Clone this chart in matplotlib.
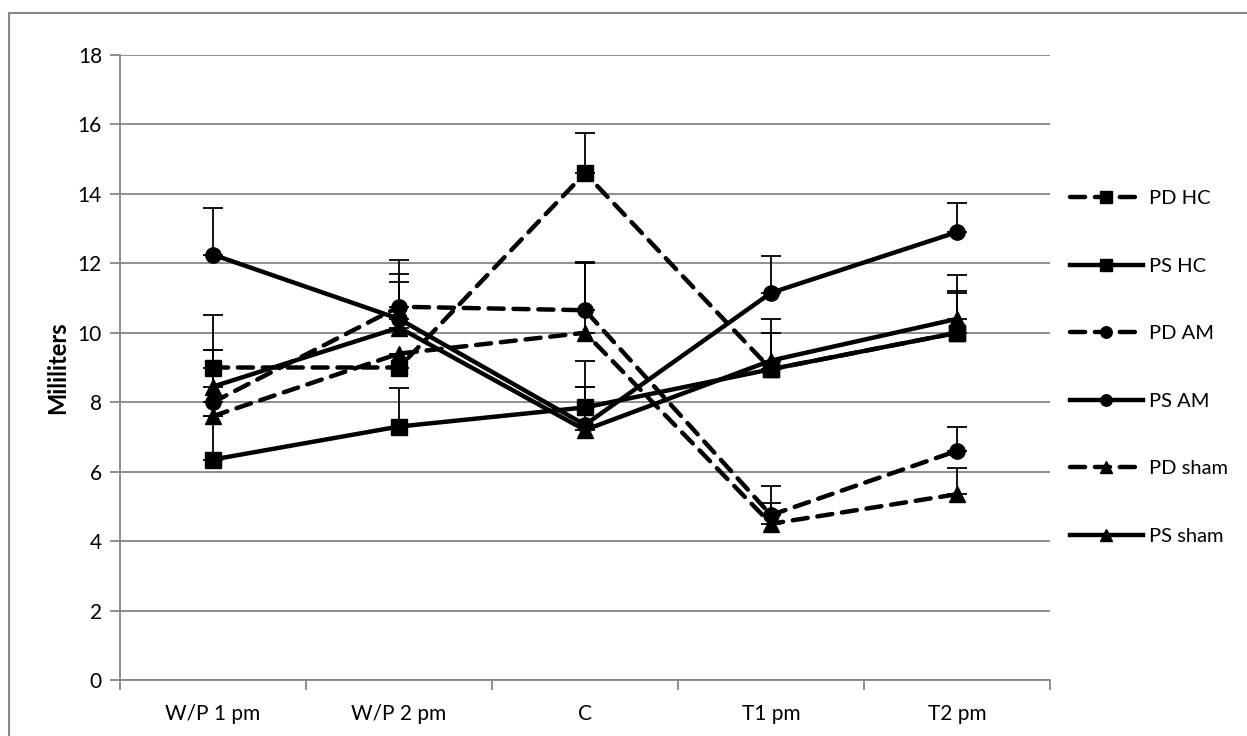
import numpy as np
import matplotlib.pyplot as plt
from matplotlib.lines import Line2D

plt.rcParams['font.family'] = ['Lato', 'DejaVu Sans']

categories = ['W/P 1 pm', 'W/P 2 pm', 'C', 'T1 pm', 'T2 pm']

pd_hc = [9.0, 9.0, 14.6, 8.95, 10.0]
ps_hc = [6.35, 7.3, 7.85, 8.95, 10.0]
pd_am = [8.0, 10.75, 10.65, 4.75, 6.6]
ps_am = [12.25, 10.4, 7.35, 11.15, 12.9]
pd_sham = [7.6, 9.4, 10.0, 4.5, 5.35]
ps_sham = [8.45, 10.15, 7.2, 9.2, 10.4]

# plus-only error bars
pd_hc_err = [1.5, 0.0, 1.15, 1.05, 1.2]
ps_hc_err = [3.15, 1.1, 1.35, 0.0, 1.15]
pd_am_err = [0.0, 1.35, 1.4, 0.85, 0.7]
ps_am_err = [1.35, 1.3, 1.1, 1.05, 0.85]
pd_sham_err = [0.0, 0.0, 2.0, 0.6, 0.75]
ps_sham_err = [1.05, 1.3, 1.25, 1.2, 1.25]

series = [
    ('PD HC', pd_hc, pd_hc_err, 's', 'dashed'),
    ('PS HC', ps_hc, ps_hc_err, 's', 'solid'),
    ('PD AM', pd_am, pd_am_err, 'o', 'dashed'),
    ('PS AM', ps_am, ps_am_err, 'o', 'solid'),
    ('PD sham', pd_sham, pd_sham_err, '^', 'dashed'),
    ('PS sham', ps_sham, ps_sham_err, '^', 'solid'),
]

W, H = 1247, 736
fig = plt.figure(figsize=(W / 100, H / 100), dpi=100)
ax = fig.add_axes([120 / W, 1 - 680 / H, 930 / W, 625 / H])

# outer chart border
fig.add_artist(Line2D([9 / W, 9 / W], [0, 1 - 13 / H], color='#868686', lw=1.5, transform=fig.transFigure))
fig.add_artist(Line2D([9 / W, 1], [1 - 13 / H, 1 - 13 / H], color='#868686', lw=1.5, transform=fig.transFigure))

x = np.arange(len(categories))
handles = []
for name, vals, err, mk, ls in series:
    ax.errorbar(x, vals, yerr=[np.zeros(len(err)), err], fmt='none', ecolor='black',
                elinewidth=1.3, capsize=7, capthick=1.3, zorder=3)
    if ls == 'dashed':
        h, = ax.plot(x, vals, color='black', lw=3.2, linestyle=(0, (3.4, 2.2)), marker=mk,
                     markersize=11 if mk != '^' else 12, markerfacecolor='black', zorder=4,
                     label=name, dash_capstyle='round')
    else:
        h, = ax.plot(x, vals, color='black', lw=3.2, marker=mk,
                     markersize=11 if mk != '^' else 12, markerfacecolor='black', zorder=4,
                     label=name)
    handles.append(h)

ax.set_xlim(-0.5, len(categories) - 0.5)
ax.set_ylim(0, 18)
ax.set_yticks(np.arange(0, 19, 2))
ax.set_xticks(x)
ax.set_xticklabels(categories, fontsize=15)
ax.set_xticks(np.arange(-0.5, len(categories), 1), minor=True)
ax.tick_params(axis='x', which='major', length=0, pad=17)
ax.tick_params(axis='x', which='minor', length=7, color='#868686', width=1.3)
ax.tick_params(axis='y', length=7, color='#868686', width=1.3, labelsize=15, pad=6)
ax.grid(axis='y', color='#868686', lw=1.3)
ax.set_axisbelow(True)
for s in ['top', 'right']:
    ax.spines[s].set_visible(False)
for s in ['left', 'bottom']:
    ax.spines[s].set_color('#868686')
    ax.spines[s].set_linewidth(1.3)

ax.set_ylabel('Mililiters', fontsize=17, fontweight='bold', labelpad=6)

ax.legend(handles=handles, loc='center left', bbox_to_anchor=(1.0, 0.5), frameon=False,
          fontsize=14.5, handlelength=3.6, labelspacing=2.5, handletextpad=0.3,
          borderaxespad=0.6, markerscale=0.75)

fig.savefig('out.png', dpi=100)
